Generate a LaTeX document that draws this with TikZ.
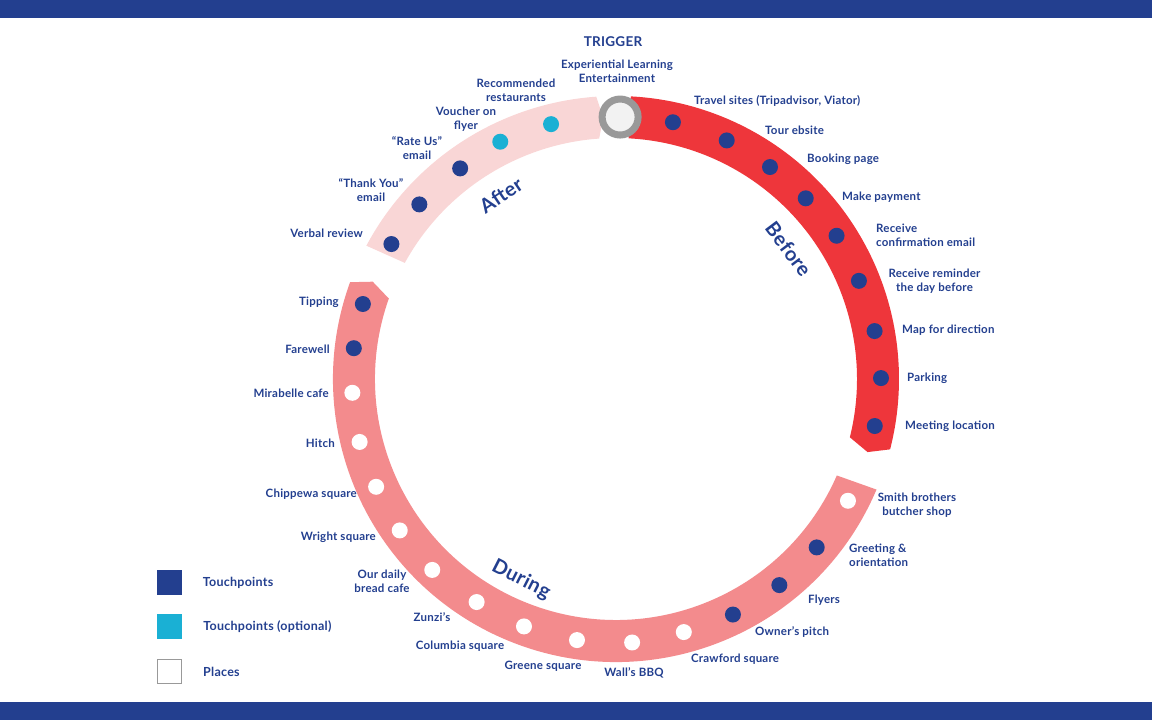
\documentclass[tikz,border=0pt]{standalone}
\usepackage{fontspec}
\setmainfont{Lato}[LetterSpace=2]
\usetikzlibrary{positioning}
\definecolor{bNavy}{RGB}{35, 63, 143}
\definecolor{cBefore}{RGB}{238, 54, 59}
\definecolor{cDuring}{RGB}{243, 139, 141}
\definecolor{cAfter}{RGB}{249, 214, 214}
\definecolor{cOpt}{RGB}{26, 176, 212}
\definecolor{cRing}{RGB}{153, 153, 153}
\definecolor{cGray}{RGB}{242, 242, 242}

\begin{document}
\begin{tikzpicture}[
    x=1pt, y=1pt,
    font=\bfseries\fontsize{11.5}{14}\selectfont,
    lbl/.style={text=bNavy, inner sep=0pt, align=center},
    phase/.style={text=bNavy, inner sep=0pt, font=\bfseries\fontsize{20}{20}\selectfont},
    tp/.style={circle, fill=#1, minimum size=16pt, inner sep=0pt},
    key/.style={fill=#1, minimum size=25pt, inner sep=0pt}
]

\useasboundingbox (0,0) rectangle (1152,720);
\fill[bNavy] (0,702) rectangle (1152,720);
\fill[bNavy] (0,0) rectangle (1152,18);

% journey ring, centred on the circle
\begin{scope}[shift={(616,341)}]
    \fill[cBefore] (87:283pt) arc[start angle=87, end angle=-14.4, radius=283pt]
        -- (-16.2:262pt) -- (-14:241pt) arc[start angle=-14, end angle=87, radius=241pt] -- cycle;
    \fill[cDuring] (-23:283pt) arc[start angle=-23, end angle=-200, radius=283pt]
        -- (-201.8:262pt) -- (-199.5:241pt) arc[start angle=-199.5, end angle=-23.6, radius=241pt] -- cycle;
    \fill[cAfter] (151.9:283pt) arc[start angle=151.9, end angle=94, radius=283pt]
        -- (92.8:262pt) -- (94:241pt) arc[start angle=94, end angle=151.2, radius=241pt] -- cycle;

    \node[circle, draw=cRing, line width=7pt, fill=cGray, minimum size=36pt, inner sep=0pt] (trig) at (89.1:262pt) {};

    % Before
    \node[tp=bNavy] (b1) at (77.5:263pt) {};
    \node[tp=bNavy] (b2) at (65.1:263pt) {};
    \node[tp=bNavy] (b3) at (54.0:262pt) {};
    \node[tp=bNavy] (b4) at (43.6:262pt) {};
    \node[tp=bNavy] (b5) at (33.0:263pt) {};
    \node[tp=bNavy] (b6) at (22.0:262pt) {};
    \node[tp=bNavy] (b7) at (10.5:263pt) {};
    \node[tp=bNavy] (b8) at (0.2:265pt) {};
    \node[tp=bNavy] (b9) at (-10.3:263pt) {};

    % During
    \node[tp=white] (d1) at (-27.7:262pt) {};
    \node[tp=bNavy] (d2) at (-40.0:262pt) {};
    \node[tp=bNavy] (d3) at (-51.6:263pt) {};
    \node[tp=bNavy] (d4) at (-63.6:263pt) {};
    \node[tp=white] (d5) at (-75.0:262pt) {};
    \node[tp=white] (d6) at (-86.5:264pt) {};
    \node[tp=white] (d7) at (-98.5:264pt) {};
    \node[tp=white] (d8) at (-110.4:264pt) {};
    \node[tp=white] (d9) at (-122.0:263pt) {};
    \node[tp=white] (d10) at (-133.9:265pt) {};
    \node[tp=white] (d11) at (-145.0:264pt) {};
    \node[tp=white] (d12) at (-155.8:263pt) {};
    \node[tp=white] (d13) at (-166.2:264pt) {};
    \node[tp=white] (d14) at (-177.0:264pt) {};
    \node[tp=bNavy] (d15) at (173.3:264pt) {};
    \node[tp=bNavy] (d16) at (163.5:264pt) {};

    % After
    \node[tp=bNavy] (a1) at (149.0:262pt) {};
    \node[tp=bNavy] (a2) at (138.4:263pt) {};
    \node[tp=bNavy] (a3) at (126.5:262pt) {};
    \node[tp=cOpt] (a4) at (116.0:264pt) {};
    \node[tp=cOpt] (a5) at (104.3:263pt) {};

    \node[phase, rotate=-53] (before) at (37:216pt) {Before};
    \node[phase, rotate=-27] (during) at (-115.3:222pt) {During};
    \node[phase, rotate=34] (after) at (122:217pt) {After};
\end{scope}

\node[lbl, font=\bfseries\fontsize{13.5}{14}\selectfont] (trigger) at (613,678) {TRIGGER};
\node[lbl] (exp) at (617,649) {Experiential Learning\\Entertainment};

% Before labels
\node[lbl, anchor=west] (lb1) at (694,619) {Travel sites (Tripadvisor, Viator)};
\node[lbl, anchor=west] (lb2) at (765,590) {Tour ebsite};
\node[lbl, anchor=west] (lb3) at (807,561) {Booking page};
\node[lbl, anchor=west] (lb4) at (842,523) {Make payment};
\node[lbl, anchor=west, align=left] (lb5) at (876,485) {Receive\\confirmation email};
\node[lbl] (lb6) at (934.5,439) {Receive reminder\\the day before};
\node[lbl, anchor=west] (lb7) at (902,390) {Map for direction};
\node[lbl, anchor=west] (lb8) at (907,342) {Parking};
\node[lbl, anchor=west] (lb9) at (905,294) {Meeting location};

% During labels
\node[lbl] (ld1) at (917,215) {Smith brothers\\butcher shop};
\node[lbl, anchor=west, align=left] (ld2) at (849,165) {Greeting \&\\orientation};
\node[lbl, anchor=west] (ld3) at (808,120) {Flyers};
\node[lbl, anchor=west] (ld4) at (755,88) {Owner’s pitch};
\node[lbl] (ld5) at (735,61) {Crawford square};
\node[lbl] (ld6) at (634,47) {Wall’s BBQ};
\node[lbl] (ld7) at (543,54) {Greene square};
\node[lbl] (ld8) at (460,74) {Columbia square};
\node[lbl] (ld9) at (432,103) {Zunzi’s};
\node[lbl] (ld10) at (382,138.5) {Our daily\\bread cafe};
\node[lbl, anchor=east] (ld11) at (376,183) {Wright square};
\node[lbl, anchor=east] (ld12) at (357,226) {Chippewa square};
\node[lbl, anchor=east] (ld13) at (335,277) {Hitch};
\node[lbl, anchor=east] (ld14) at (329,327) {Mirabelle cafe};
\node[lbl, anchor=east] (ld15) at (330,371) {Farewell};
\node[lbl, anchor=east] (ld16) at (339,418) {Tipping};

% After labels
\node[lbl, anchor=east] (la1) at (363,487) {Verbal review};
\node[lbl] (la2) at (371,530) {“Thank You”\\email};
\node[lbl] (la3) at (417,571.5) {“Rate Us”\\email};
\node[lbl] (la4) at (466,601) {Voucher on\\flyer};
\node[lbl] (la5) at (516,630) {Recommended\\restaurants};

% Legend
\node[key=bNavy] (kTouch) at (169,137.5) {};
\node[key=cOpt] (kOpt) at (169.5,93) {};
\node[key=white, draw=cRing, line width=1pt, minimum size=24pt] (kPlace) at (169.5,48.5) {};
\node[lbl, font=\bfseries\fontsize{12.5}{14}\selectfont, anchor=west, right=21pt of kTouch] (lTouch) {Touchpoints};
\node[lbl, font=\bfseries\fontsize{12.5}{14}\selectfont, anchor=west, right=21pt of kOpt] (lOpt) {Touchpoints (optional)};
\node[lbl, font=\bfseries\fontsize{12.5}{14}\selectfont, anchor=west, right=21pt of kPlace] (lPlace) {Places};

\end{tikzpicture}
\end{document}
